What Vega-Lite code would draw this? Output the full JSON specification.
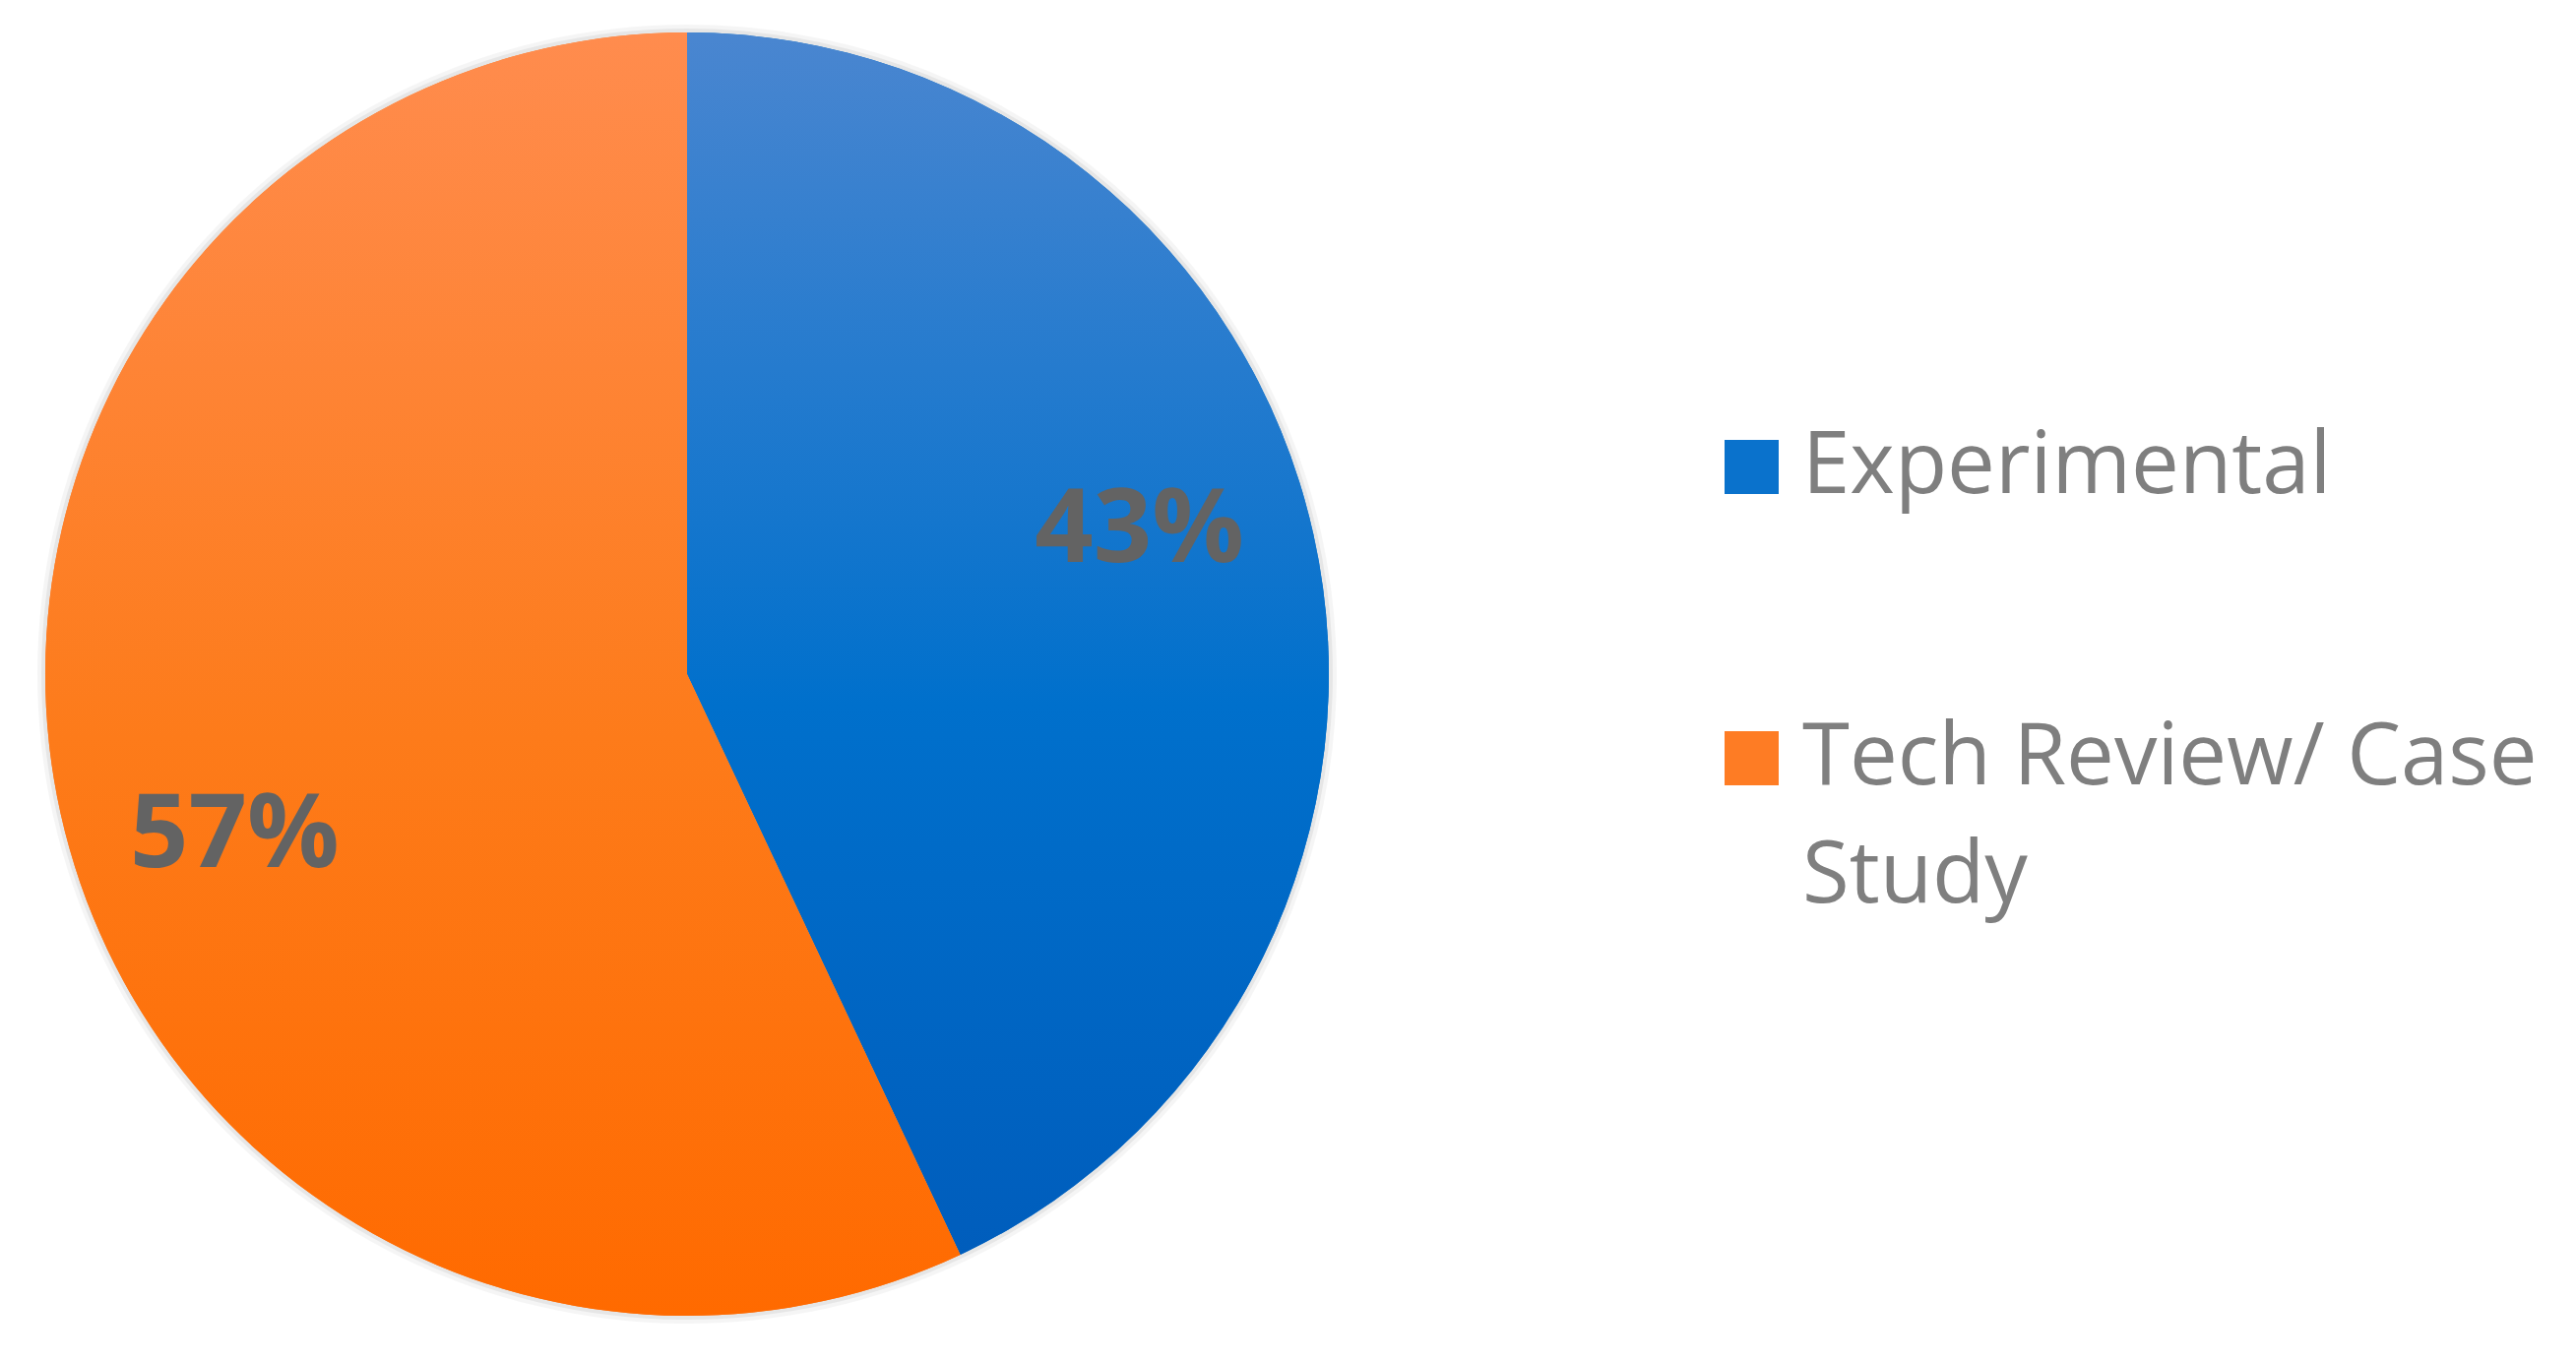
{
  "$schema": "https://vega.github.io/schema/vega-lite/v6.json",
  "width": 1396,
  "height": 1370,
  "padding": 0,
  "background": "white",
  "config": {
    "view": {"stroke": null},
    "style": {"guide-label": {"lineHeight": 120}}
  },
  "data": {
    "values": [
      {"category": "Experimental", "value": 43, "rank": 1, "label": "43%"},
      {"category": "Tech Review/ Case Study", "value": 57, "rank": 2, "label": "57%"}
    ]
  },
  "encoding": {
    "theta": {"field": "value", "type": "quantitative", "stack": true},
    "order": {"field": "rank", "type": "quantitative"}
  },
  "layer": [
    {
      "mark": {"type": "arc", "outerRadius": 660, "color": "#000000", "opacity": 0.04, "strokeWidth": 0}
    },
    {
      "mark": {"type": "arc", "outerRadius": 656, "color": "#000000", "opacity": 0.06, "strokeWidth": 0}
    },
    {
      "mark": {"type": "arc", "outerRadius": 652},
      "encoding": {
        "color": {
          "field": "category",
          "type": "nominal",
          "scale": {
            "domain": ["Experimental", "Tech Review/ Case Study"],
            "range": ["#0a72cc", "#fe7c24"]
          },
          "legend": {
            "orient": "none",
            "legendX": 1736,
            "legendY": 431,
            "title": null,
            "labelFont": "Open Sans",
            "labelFontSize": 87,
            "labelColor": "#7f7f7f",
            "labelOffset": 8,
            "labelLimit": 1000,
            "symbolType": "square",
            "symbolSize": 3025,
            "symbolStrokeWidth": 0,
            "symbolOpacity": 1,
            "rowPadding": 208,
            "labelExpr": "datum.label == 'Tech Review/ Case Study' ? ['Tech Review/ Case', 'Study'] : datum.label"
          }
        }
      }
    },
    {
      "mark": {"type": "arc", "outerRadius": 652},
      "encoding": {
        "color": {
          "condition": {
            "test": "datum.category == 'Experimental'",
            "value": {"gradient": "linear", "x1": 0, "y1": 0, "x2": 0, "y2": 1,
               "stops": [{"offset": 0, "color": "#4a86d0"}, {"offset": 0.55, "color": "#0070cc"}, {"offset": 1, "color": "#005dbc"}]}
          },
          "value": {"gradient": "linear", "x1": 0, "y1": 0, "x2": 0, "y2": 1,
               "stops": [{"offset": 0, "color": "#ff8c4e"}, {"offset": 0.55, "color": "#fd7b1a"}, {"offset": 1, "color": "#ff6a00"}]}
        }
      }
    },
    {
      "mark": {"type": "text", "radius": 485, "thetaOffset": -0.105, "dy": 10, "fontSize": 104, "fontWeight": "bold", "font": "Open Sans", "fill": "#636363"},
      "encoding": {
        "text": {"field": "label", "type": "nominal"}
      }
    }
  ]
}
